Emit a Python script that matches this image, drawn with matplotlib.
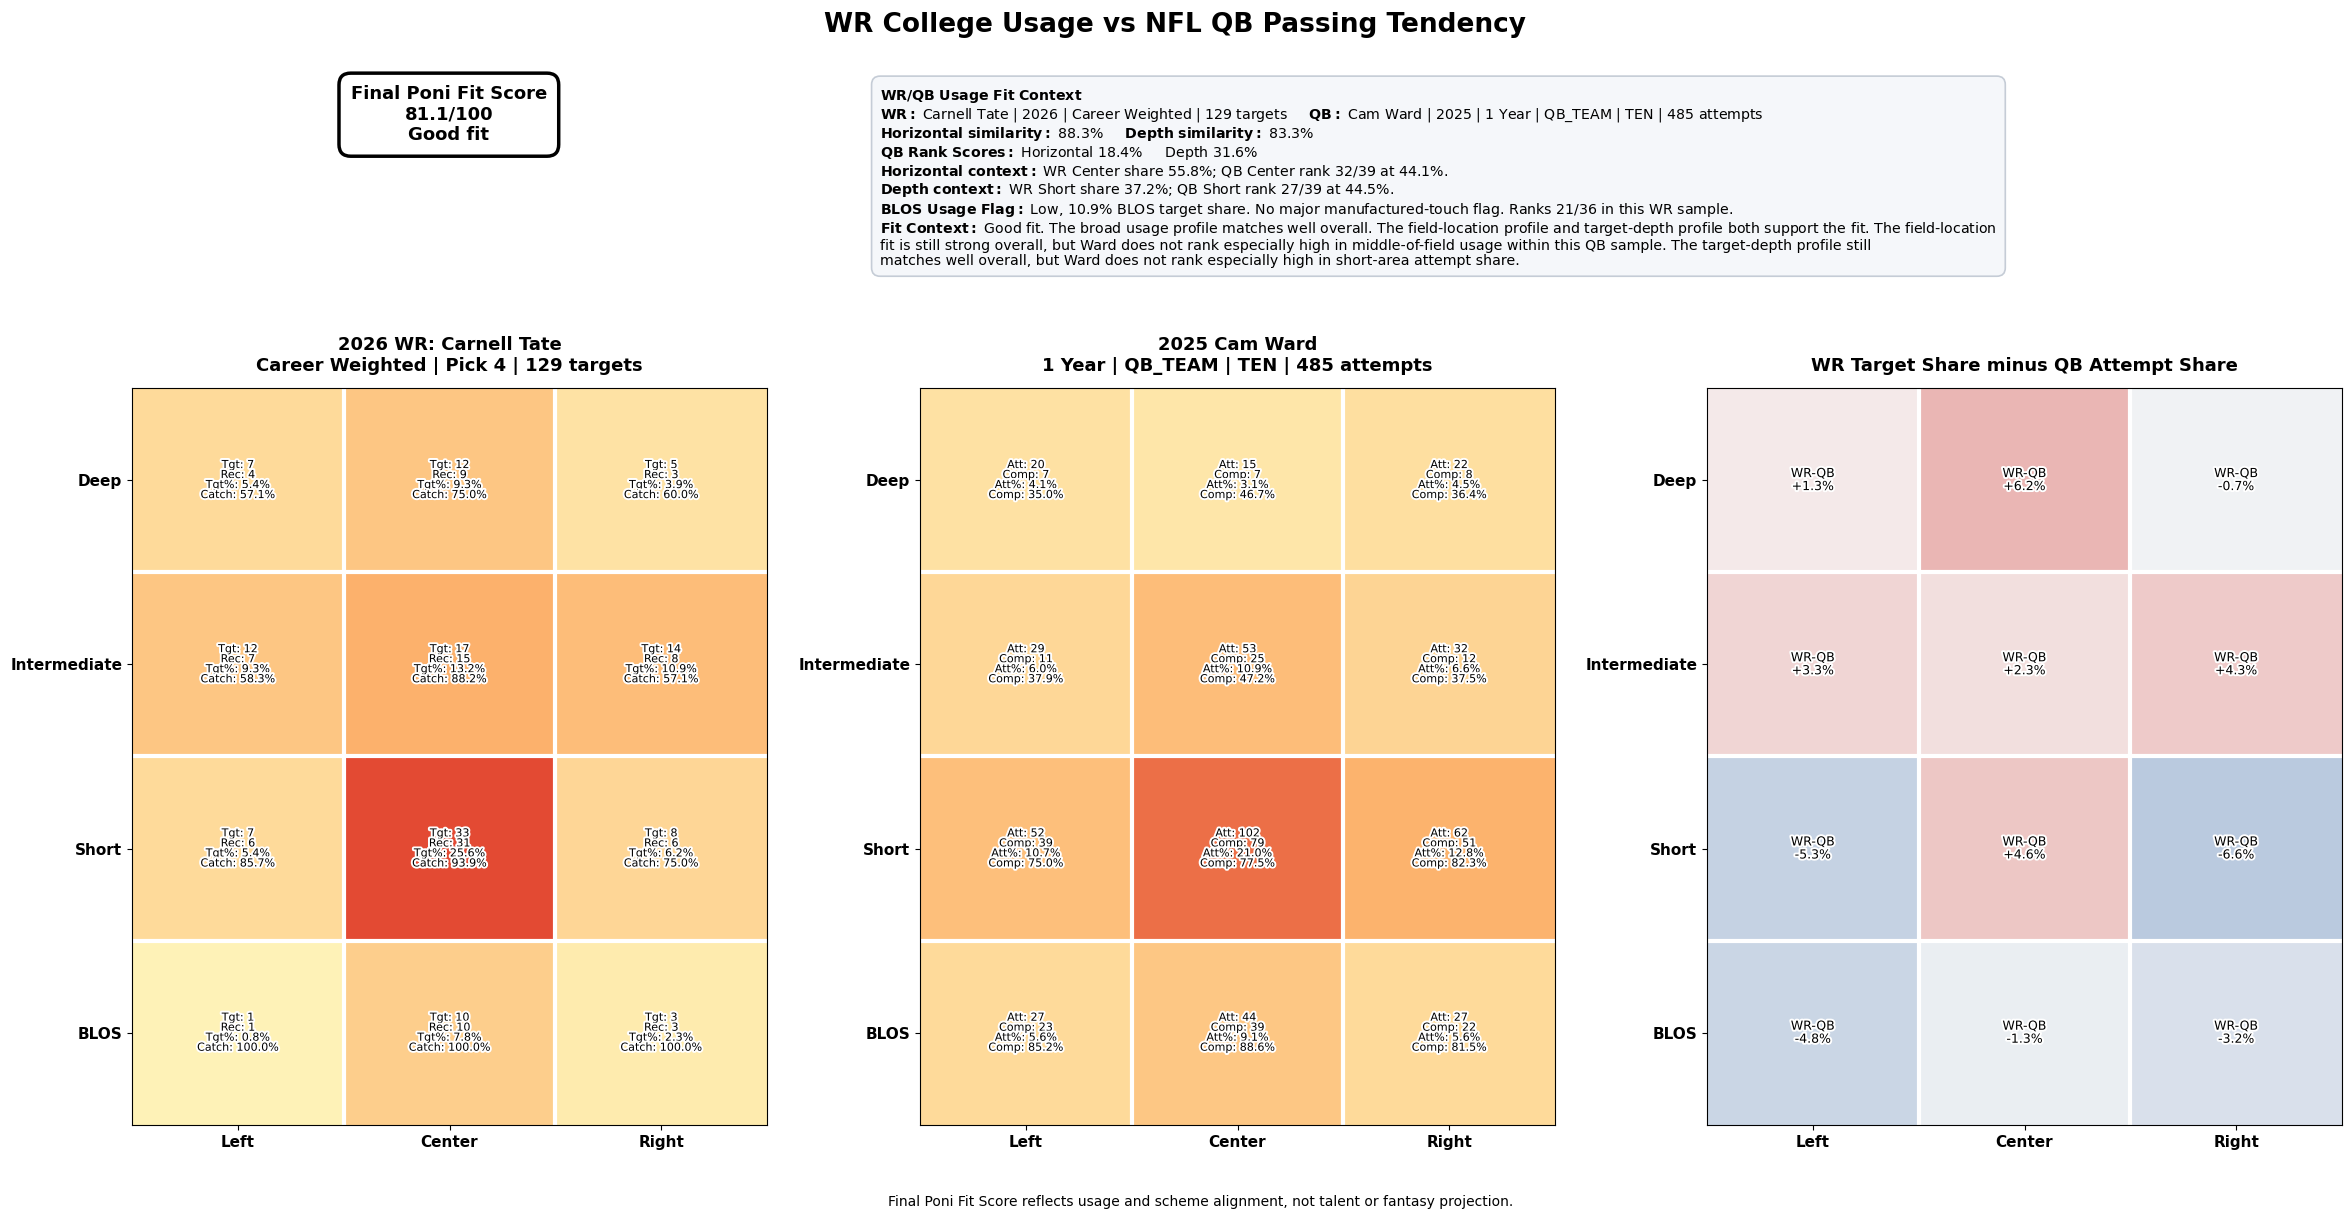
import numpy as np
import matplotlib
matplotlib.use('Agg')
import matplotlib.pyplot as plt
import matplotlib.patheffects as pe
from matplotlib.colors import LinearSegmentedColormap, Normalize

# grid layout: rows are depth zones, columns are field location
depth_rows = ['Deep', 'Intermediate', 'Short', 'BLOS']
field_cols = ['Left', 'Center', 'Right']

# WR (college, career weighted)
wr_tgt = [[7, 12, 5], [12, 17, 14], [7, 33, 8], [1, 10, 3]]
wr_rec = [[4, 9, 3], [7, 15, 8], [6, 31, 6], [1, 10, 3]]
wr_tgt_pct = [[5.4, 9.3, 3.9], [9.3, 13.2, 10.9], [5.4, 25.6, 6.2], [0.8, 7.8, 2.3]]
wr_catch_pct = [[57.1, 75.0, 60.0], [58.3, 88.2, 57.1], [85.7, 93.9, 75.0], [100.0, 100.0, 100.0]]

# QB (NFL, 1 year)
qb_att = [[20, 15, 22], [29, 53, 32], [52, 102, 62], [27, 44, 27]]
qb_comp = [[7, 7, 8], [11, 25, 12], [39, 79, 51], [23, 39, 22]]
qb_att_pct = [[4.1, 3.1, 4.5], [6.0, 10.9, 6.6], [10.7, 21.0, 12.8], [5.6, 9.1, 5.6]]
qb_comp_pct = [[35.0, 46.7, 36.4], [37.9, 47.2, 37.5], [75.0, 77.5, 82.3], [85.2, 88.6, 81.5]]

# WR share minus QB share
diff_pct = [[1.3, 6.2, -0.7], [3.3, 2.3, 4.3], [-5.3, 4.6, -6.6], [-4.8, -1.3, -3.2]]

score_text = "Final Poni Fit Score\n81.1/100\nGood fit"

context_lines = [
    r"$\bf{WR/QB\ Usage\ Fit\ Context}$",
    r"$\bf{WR:}$ Carnell Tate | 2026 | Career Weighted | 129 targets     $\bf{QB:}$ Cam Ward | 2025 | 1 Year | QB_TEAM | TEN | 485 attempts",
    r"$\bf{Horizontal\ similarity:}$ 88.3%     $\bf{Depth\ similarity:}$ 83.3%",
    r"$\bf{QB\ Rank\ Scores:}$ Horizontal 18.4%     Depth 31.6%",
    r"$\bf{Horizontal\ context:}$ WR Center share 55.8%; QB Center rank 32/39 at 44.1%.",
    r"$\bf{Depth\ context:}$ WR Short share 37.2%; QB Short rank 27/39 at 44.5%.",
    r"$\bf{BLOS\ Usage\ Flag:}$ Low, 10.9% BLOS target share. No major manufactured-touch flag. Ranks 21/36 in this WR sample.",
    r"$\bf{Fit\ Context:}$ Good fit. The broad usage profile matches well overall. The field-location profile and target-depth profile both support the fit. The field-location",
    "fit is still strong overall, but Ward does not rank especially high in middle-of-field usage within this QB sample. The target-depth profile still",
    "matches well overall, but Ward does not rank especially high in short-area attempt share.",
]

seq_cmap = LinearSegmentedColormap.from_list('usage', ['#fff7bc', '#fdb46e', '#e34a33'])
div_cmap = LinearSegmentedColormap.from_list('diff', ['#bacadf', '#f7f7f7', '#eab3b1'])

share_max = max(np.max(wr_tgt_pct), np.max(qb_att_pct))
seq_norm = Normalize(vmin=0, vmax=share_max)
diff_lim = np.max(np.abs(diff_pct))
div_norm = Normalize(vmin=-diff_lim, vmax=diff_lim)

stroke = [pe.withStroke(linewidth=2.8, foreground='white')]


def draw_grid(ax, values, cell_labels, cmap, norm, title, fontsize):
    ax.imshow(np.array(values), cmap=cmap, norm=norm, aspect='auto')
    for i in range(len(depth_rows)):
        for j in range(len(field_cols)):
            ax.text(j, i, cell_labels[i][j], ha='center', va='center',
                    fontsize=fontsize, linespacing=1.0, path_effects=stroke)
    ax.set_xticks(range(len(field_cols)))
    ax.set_xticklabels(field_cols, fontsize=11, fontweight='bold')
    ax.set_yticks(range(len(depth_rows)))
    ax.set_yticklabels(depth_rows, fontsize=11, fontweight='bold')
    # white separators between cells
    ax.set_xticks(np.arange(0.5, len(field_cols) - 1, 1), minor=True)
    ax.set_yticks(np.arange(0.5, len(depth_rows) - 1, 1), minor=True)
    ax.grid(which='minor', color='white', linewidth=3)
    ax.tick_params(which='minor', length=0)
    ax.set_title(title, fontsize=13, fontweight='bold', pad=12)


fig = plt.figure(figsize=(23.5, 12.2), dpi=100)

ax1 = fig.add_axes([0.0562, 0.078, 0.2702, 0.604])
ax2 = fig.add_axes([0.3915, 0.078, 0.2702, 0.604])
ax3 = fig.add_axes([0.7264, 0.078, 0.2702, 0.604])

wr_labels = [["Tgt: %d\nRec: %d\nTgt%%: %.1f%%\nCatch: %.1f%%" % (wr_tgt[i][j], wr_rec[i][j], wr_tgt_pct[i][j], wr_catch_pct[i][j])
              for j in range(3)] for i in range(4)]
qb_labels = [["Att: %d\nComp: %d\nAtt%%: %.1f%%\nComp: %.1f%%" % (qb_att[i][j], qb_comp[i][j], qb_att_pct[i][j], qb_comp_pct[i][j])
              for j in range(3)] for i in range(4)]
diff_labels = [["WR-QB\n%+.1f%%" % diff_pct[i][j] for j in range(3)] for i in range(4)]

draw_grid(ax1, wr_tgt_pct, wr_labels, seq_cmap, seq_norm,
          "2026 WR: Carnell Tate\nCareer Weighted | Pick 4 | 129 targets", 8)
draw_grid(ax2, qb_att_pct, qb_labels, seq_cmap, seq_norm,
          "2025 Cam Ward\n1 Year | QB_TEAM | TEN | 485 attempts", 8)
draw_grid(ax3, diff_pct, diff_labels, div_cmap, div_norm,
          "WR Target Share minus QB Attempt Share", 9)

fig.suptitle("WR College Usage vs NFL QB Passing Tendency", fontsize=19, fontweight='bold', y=0.99)

fig.text(0.191, 0.906, score_text, ha='center', va='center', fontsize=13, fontweight='bold',
         bbox=dict(boxstyle='round,pad=0.65', facecolor='white', edgecolor='black', linewidth=2.5))

fig.text(0.3745, 0.929, "\n".join(context_lines), ha='left', va='top', fontsize=10.2, linespacing=1.09,
         bbox=dict(boxstyle='round,pad=0.6', facecolor='#f5f7fa', edgecolor='#c5ccd6', linewidth=1.2))

fig.text(0.511, 0.015, "Final Poni Fit Score reflects usage and scheme alignment, not talent or fantasy projection.",
         ha='center', va='center', fontsize=10)

fig.savefig('out.png', dpi=100)
